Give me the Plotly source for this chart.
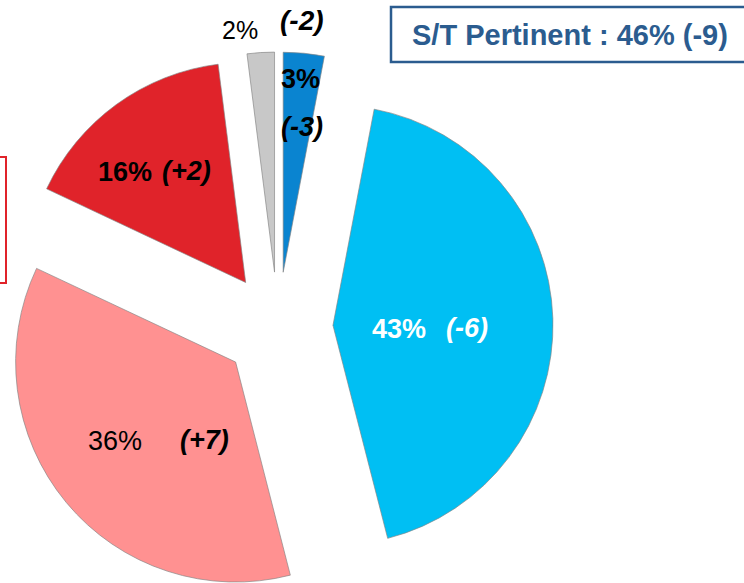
import math
import plotly.graph_objects as go

# ---- data ----
categories = ["Très pertinent", "Plutôt pertinent", "Plutôt pas pertinent",
              "Pas du tout pertinent", "NSP"]
shares = [3, 43, 36, 16, 2]
deltas = ["-3", "-6", "+7", "+2", "-2"]
colors = ["#0A84D0", "#00BFF3", "#FF9191", "#E0232A", "#C8C8C8"]
summary_text = "S/T Pertinent : 46% (-9)"

W, H = 744, 583
CX, CY = 278.0, 327.0     # pie centre (px, from top-left)
R = 220.0                 # radius (px)
PULL = 55.0               # explode distance (px)

fig = go.Figure()

total = sum(shares)
start = 0.0
for cat, v, col in zip(categories, shares, colors):
    span = 360.0 * v / total
    mid = math.radians(start + span / 2)
    cx = CX + PULL * math.sin(mid)
    cy = CY - PULL * math.cos(mid)
    x0 = max(0.0, (cx - R) / W)
    x1 = min(1.0, (cx + R) / W)
    y0 = max(0.0, 1 - (cy + R) / H)
    y1 = min(1.0, 1 - (cy - R) / H)
    fig.add_trace(go.Pie(
        labels=[cat, ""],
        values=[v, total - v],
        sort=False,
        direction="clockwise",
        rotation=start,
        marker=dict(colors=[col, "rgba(0,0,0,0)"],
                    line=dict(color=["rgba(130,130,130,0.65)", "rgba(0,0,0,0)"],
                              width=[1, 0])),
        textinfo="none",
        hoverinfo="skip",
        showlegend=False,
        domain=dict(x=[x0, x1], y=[y0, y1]),
    ))
    start += span

def px(x, y):
    return x / W, 1 - y / H

FONT = "Liberation Sans, Arial, sans-serif"
annots = []

def add(text, x, y, size, color="#000000"):
    ax, ay = px(x, y)
    annots.append(dict(text=text, x=ax, y=ay, xref="paper", yref="paper",
                       showarrow=False, xanchor="center", yanchor="middle",
                       font=dict(family=FONT, size=size, color=color)))

# labels: share and change, per slice
add(f"<b>{shares[1]}%</b>", 398.5, 329, 27, "#FFFFFF")
add(f"<b><i>({deltas[1]})</i></b>", 466.5, 328, 27, "#FFFFFF")
add(f"{shares[2]}%", 114.5, 441, 27)
add(f"<b><i>({deltas[2]})</i></b>", 205, 440, 27)
add(f"<b>{shares[3]}%</b>", 125, 172, 27)
add(f"<b><i>({deltas[3]})</i></b>", 186.5, 171, 27)
add(f"{shares[4]}%", 240, 30, 25)
add(f"<b><i>({deltas[4]})</i></b>", 302, 21, 28)
add(f"<b>{shares[0]}%</b>", 300, 79, 27)
add(f"<b><i>({deltas[0]})</i></b>", 302, 127, 27)

# summary box
sx, sy = px(570, 35)
annots.append(dict(text=f"<b>{summary_text}</b>", x=sx, y=sy, xref="paper", yref="paper",
                   showarrow=False, xanchor="center", yanchor="middle",
                   font=dict(family=FONT, size=29, color="#2B5C8F")))

shapes = [
    dict(type="rect", xref="paper", yref="paper",
         x0=391 / W, x1=752 / W, y0=1 - 62 / H, y1=1 - 7 / H,
         line=dict(color="#2B5C8F", width=2.5), fillcolor="rgba(0,0,0,0)"),
    dict(type="rect", xref="paper", yref="paper",
         x0=-60 / W, x1=6 / W, y0=1 - 283 / H, y1=1 - 157 / H,
         line=dict(color="#E0232A", width=2), fillcolor="rgba(0,0,0,0)"),
]

fig.update_layout(
    width=W, height=H,
    margin=dict(l=0, r=0, t=0, b=0),
    paper_bgcolor="#FFFFFF", plot_bgcolor="#FFFFFF",
    annotations=annots, shapes=shapes,
)

fig.write_html("out.html",
               config={"displayModeBar": False},
               post_script="document.body.style.margin='0';document.body.style.overflow='hidden';")
